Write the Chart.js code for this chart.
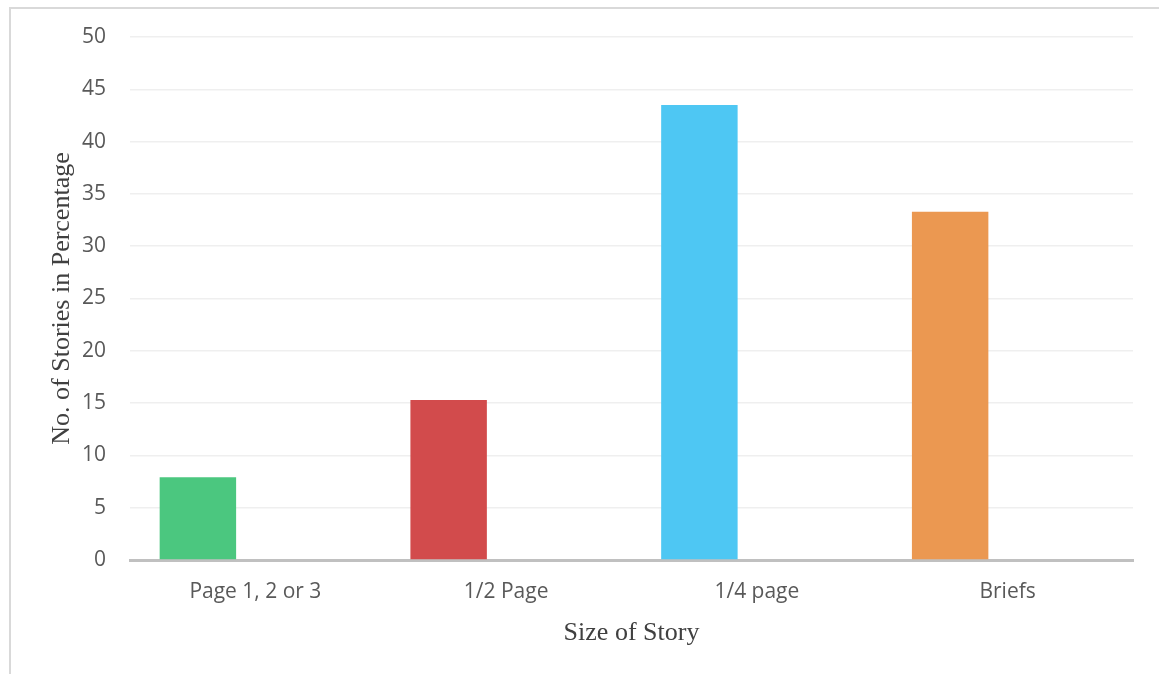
<!DOCTYPE html>
<html>
<head>
<meta charset="utf-8">
<script src="https://cdn.jsdelivr.net/npm/chart.js@4/dist/chart.umd.min.js"></script>
<style>
  html, body { margin: 0; padding: 0; background: #fff; }
  #wrap { position: relative; width: 1159px; height: 674px; overflow: hidden; }
  #frame { position: absolute; left: 9px; top: 7px; right: -5px; bottom: -5px;
           border-top: 2px solid #d9d9d9; border-left: 2px solid #d9d9d9; }
  canvas { position: absolute; left: 0; top: 0; }
</style>
</head>
<body>
<div id="wrap">
  <div id="frame"></div>
  <canvas id="chart" width="1159" height="674"></canvas>
</div>
<script>
// Story sizes and their share of all stories (%)
const categories = ['Page 1, 2 or 3', '1/2 Page', '1/4 page', 'Briefs'];
const shares = [7.9, 15.3, 43.5, 33.3];
const barColors = ['#4bc77f', '#d24b4c', '#4ec7f3', '#eb9851'];
const yTicks = [0, 5, 10, 15, 20, 25, 30, 35, 40, 45, 50];

const tickFont = { family: '"Open Sans", "Noto Sans", sans-serif', size: 21 };
const titleFont = { family: '"Liberation Serif", "DejaVu Serif", serif', size: 26 };

new Chart(document.getElementById('chart'), {
  type: 'bar',
  data: {
    labels: categories,
    datasets: [
      {
        label: 'Share',
        data: shares,
        backgroundColor: barColors,
        borderWidth: 0,
        categoryPercentage: 0.917,
        barPercentage: 0.665
      },
      {
        label: '',
        data: categories.map(() => null),
        backgroundColor: 'rgba(0,0,0,0)',
        categoryPercentage: 0.917,
        barPercentage: 0.665
      }
    ]
  },
  options: {
    responsive: false,
    animation: false,
    devicePixelRatio: 1,
    layout: { padding: { left: 0, top: 37, right: 26, bottom: 0 } },
    plugins: { legend: { display: false }, tooltip: { enabled: false } },
    scales: {
      x: {
        grid: { display: false, drawTicks: false },
        border: { display: true, color: '#c0c0c0', width: 3 },
        ticks: { color: '#595959', font: tickFont, padding: 19 },
        title: { display: true, text: 'Size of Story', color: '#404040', font: titleFont,
                 padding: { top: 0, bottom: 25 } },
        afterFit: s => { s.height = 114; }
      },
      y: {
        min: 0,
        max: 50,
        afterBuildTicks: s => { s.ticks = yTicks.map(v => ({ value: v })); },
        grid: { color: '#efefef', lineWidth: 1.5, drawTicks: false },
        border: { display: false },
        ticks: { color: '#595959', font: tickFont, padding: 24 },
        title: { display: true, text: 'No. of Stories in Percentage', color: '#404040', font: titleFont,
                 padding: { top: 47, bottom: 0 } },
        afterFit: s => { s.width = 130; }
      }
    }
  }
});
</script>
</body>
</html>
